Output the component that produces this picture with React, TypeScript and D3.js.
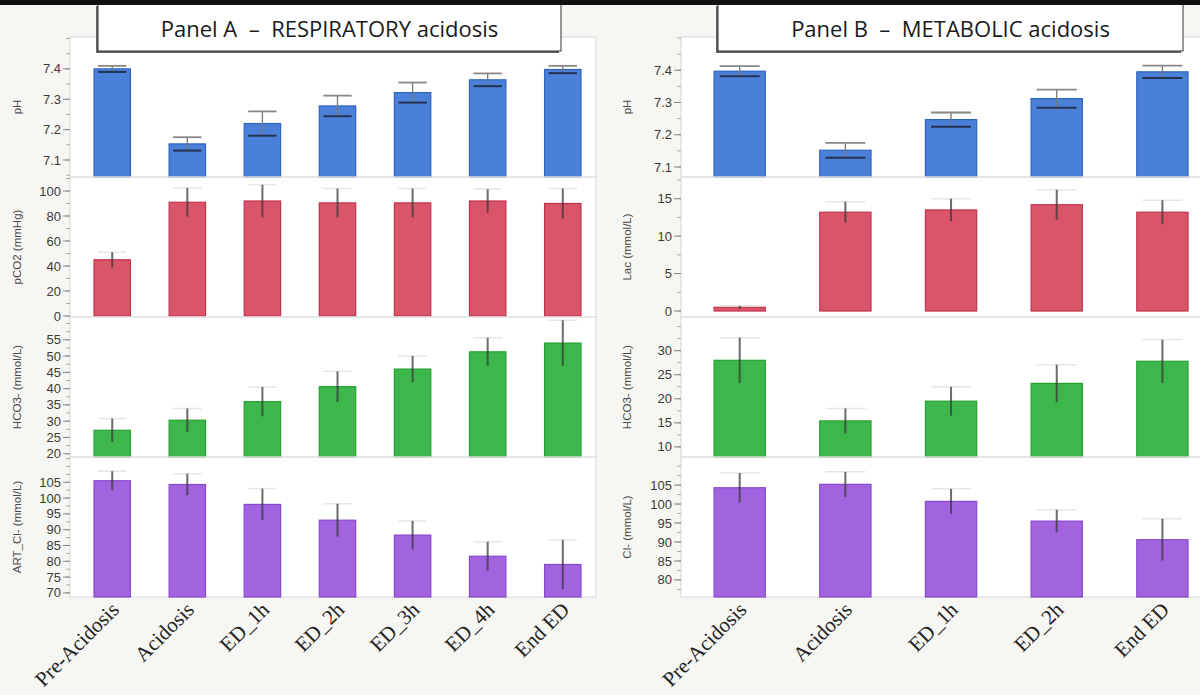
import * as d3 from 'd3';

// categories
const groupsA = ['Pre-Acidosis', 'Acidosis', 'ED_1h', 'ED_2h', 'ED_3h', 'ED_4h', 'End ED'];
const groupsB = ['Pre-Acidosis', 'Acidosis', 'ED_1h', 'ED_2h', 'End ED'];

// Panel A - respiratory acidosis (mean, sd)
const phA = [7.4, 7.153, 7.22, 7.278, 7.322, 7.364, 7.398];
const phErrA = [0.01, 0.022, 0.04, 0.034, 0.033, 0.021, 0.012];
const pco2A = [45, 91, 92, 90.5, 90.5, 92, 90];
const pco2ErrA = [6, 11.5, 13, 11.5, 11.5, 9.5, 12];
const hco3A = [27.2, 30.3, 36, 40.6, 46, 51.3, 54];
const hco3ErrA = [3.6, 3.6, 4.5, 4.7, 4, 4.3, 7];
const clA = [105.5, 104.3, 98, 93, 88.3, 81.6, 79];
const clErrA = [3, 3.4, 5, 5.2, 4.5, 4.6, 7.8];

// Panel B - metabolic acidosis
const phB = [7.397, 7.152, 7.247, 7.312, 7.395];
const phErrB = [0.016, 0.023, 0.022, 0.028, 0.019];
const lacB = [0.5, 13.2, 13.5, 14.2, 13.2];
const lacErrB = [0.2, 1.4, 1.5, 2, 1.6];
const hco3B = [28, 15.4, 19.5, 23.2, 27.8];
const hco3ErrB = [4.7, 2.6, 3, 3.9, 4.5];
const clB = [104.3, 105.2, 100.7, 95.5, 90.6];
const clErrB = [3.9, 3.3, 3.3, 3, 5.5];

// tick labels
const phTicks = [7.1, 7.2, 7.3, 7.4];
const pco2Ticks = [0, 20, 40, 60, 80, 100];
const hco3TicksA = [20, 25, 30, 35, 40, 45, 50, 55];
const clTicksA = [70, 75, 80, 85, 90, 95, 100, 105];
const lacTicks = [0, 5, 10, 15];
const hco3TicksB = [10, 15, 20, 25, 30];
const clTicksB = [80, 85, 90, 95, 100, 105];

const FILLS = ['#4b80d8', '#d9556a', '#3db64c', '#a163de'];
const STROKES = ['#2f63c0', '#c2334e', '#25a030', '#8a47d0'];

const ROW_TOP = 37;
const ROW_H = 140;

interface Row {
  label: string;
  values: number[];
  errs: number[];
  domain: [number, number];
  ticks: number[];
  fmt: string;
  capped?: boolean;
}

const rowsA: Row[] = [
  { label: 'pH', values: phA, errs: phErrA, domain: [7.044, 7.505], ticks: phTicks, fmt: '.1f', capped: true },
  { label: 'pCO2 (mmHg)', values: pco2A, errs: pco2ErrA, domain: [-0.8, 111.2], ticks: pco2Ticks, fmt: 'd' },
  { label: 'HCO3- (mmol/L)', values: hco3A, errs: hco3ErrA, domain: [19, 62], ticks: hco3TicksA, fmt: 'd' },
  { label: 'ART_Cl- (mmol/L)', values: clA, errs: clErrA, domain: [68.7, 113], ticks: clTicksA, fmt: 'd' },
];

const rowsB: Row[] = [
  { label: 'pH', values: phB, errs: phErrB, domain: [7.069, 7.503], ticks: phTicks, fmt: '.1f', capped: true },
  { label: 'Lac (mmol/L)', values: lacB, errs: lacErrB, domain: [-0.8, 17.9], ticks: lacTicks, fmt: 'd' },
  { label: 'HCO3- (mmol/L)', values: hco3B, errs: hco3ErrB, domain: [7.9, 37], ticks: hco3TicksB, fmt: 'd' },
  { label: 'Cl- (mmol/L)', values: clB, errs: clErrB, domain: [75.5, 112.4], ticks: clTicksB, fmt: 'd' },
];

interface PanelProps {
  title: string;
  groups: string[];
  rows: Row[];
  frame: [number, number];
  band: [number, number];
  titleBox: [number, number];
  yLabelX: number;
}

function Panel({ title, groups, rows, frame, band, titleBox, yLabelX }: PanelProps) {
  const x = d3.scaleBand().domain(groups).range(band).paddingInner(0.515).paddingOuter(0.26);
  const bw = x.bandwidth();
  const [fx0, fx1] = frame;
  const bottom = ROW_TOP + ROW_H * rows.length;

  return (
    <g>
      <rect x={fx0} y={ROW_TOP} width={fx1 - fx0} height={bottom - ROW_TOP} fill="#fff" stroke="#d6d6d6" />
      {rows.map((row, ri) => {
        const top = ROW_TOP + ri * ROW_H;
        const y = d3.scaleLinear().domain(row.domain).range([top + ROW_H, top]);
        const base = row.domain[0] < 0 ? 0 : row.domain[0];
        const step = row.ticks[1] - row.ticks[0];
        const minor = d3.range(row.ticks[0] - step / 2, row.domain[1], step / 2)
          .filter((t) => t > row.domain[0] && t < row.domain[1]);
        const fmt = d3.format(row.fmt);
        return (
          <g key={row.label + ri}>
            {ri > 0 && <line x1={fx0} x2={fx1} y1={top} y2={top} stroke="#dedede" strokeWidth={1.5} />}
            {minor.map((t) => (
              <line key={'m' + t} x1={fx0 - 4} x2={fx0} y1={y(t)} y2={y(t)} stroke="#aaa" />
            ))}
            {row.ticks.map((t) => (
              <g key={t}>
                <line x1={fx0 - 7} x2={fx0} y1={y(t)} y2={y(t)} stroke="#888" />
                <text x={fx0 - 9} y={y(t)} dy="0.35em" textAnchor="end" fontSize={13} fill="#3a3a3a">
                  {fmt(t)}
                </text>
              </g>
            ))}
            <text
              transform={`translate(${yLabelX},${top + ROW_H / 2}) rotate(-90)`}
              textAnchor="middle"
              fontSize={11.5}
              fill="#4a4a4a"
            >
              {row.label}
            </text>
            {row.values.map((v, i) => {
              const cx = (x(groups[i]) ?? 0) + bw / 2;
              const yTop = y(v);
              const yBase = y(base);
              const hi = y(v + row.errs[i]);
              const lo = y(v - row.errs[i]);
              const capW = bw * 0.78;
              return (
                <g key={groups[i]}>
                  <rect
                    x={cx - bw / 2}
                    y={yTop}
                    width={bw}
                    height={Math.max(yBase - yTop, 1)}
                    fill={FILLS[ri]}
                    stroke={STROKES[ri]}
                    strokeWidth={1.2}
                  />
                  {row.capped ? (
                    <g>
                      <line x1={cx} x2={cx} y1={hi} y2={lo} stroke="#777" strokeWidth={1.3} />
                      <line x1={cx - capW / 2} x2={cx + capW / 2} y1={hi} y2={hi} stroke="#888" strokeWidth={1.8} />
                      <line x1={cx - capW / 2} x2={cx + capW / 2} y1={lo} y2={lo} stroke="#22324f" strokeWidth={2} />
                    </g>
                  ) : (
                    <g>
                      <line x1={cx - capW / 2} x2={cx + capW / 2} y1={hi} y2={hi} stroke="#e6e6e6" strokeWidth={1.5} />
                      <line x1={cx} x2={cx} y1={hi} y2={lo} stroke="#3a3a3a" strokeWidth={2} strokeOpacity={0.75} />
                    </g>
                  )}
                </g>
              );
            })}
          </g>
        );
      })}
      {groups.map((gname) => {
        const cx = (x(gname) ?? 0) + bw / 2;
        return (
          <text
            key={gname}
            transform={`translate(${cx + 8},${bottom + 14}) rotate(-45)`}
            textAnchor="end"
            fontFamily="'Liberation Serif', 'Times New Roman', serif"
            fontSize={21}
            fill="#222"
          >
            {gname}
          </text>
        );
      })}
      <rect x={titleBox[0] - 2} y={6} width={titleBox[1] - titleBox[0]} height={47} fill="#666" />
      <rect x={titleBox[0]} y={4} width={titleBox[1] - titleBox[0]} height={47} fill="#fff" stroke="#333" strokeWidth={1} />
      <text
        x={(titleBox[0] + titleBox[1]) / 2}
        y={37}
        textAnchor="middle"
        fontFamily="'Open Sans', 'Noto Sans', sans-serif"
        fontSize={22}
        fill="#1a1a1a"
      >
        {title}
      </text>
    </g>
  );
}

export default function App() {
  const W = 1200;
  const H = 695;
  return (
    <svg
      width={W}
      height={H}
      style={{ position: 'absolute', left: 0, top: 0, display: 'block' }}
      fontFamily="'Liberation Sans', Arial, sans-serif"
    >
      <rect width={W} height={H} fill="#f6f6f2" />
      <Panel
        title={'Panel A \u00a0\u2013\u00a0 RESPIRATORY acidosis'}
        groups={groupsA}
        rows={rowsA}
        frame={[70, 596]}
        band={[74.5, 600.5]}
        titleBox={[98, 561]}
        yLabelX={21}
      />
      <Panel
        title={'Panel B \u00a0\u2013\u00a0 METABOLIC acidosis'}
        groups={groupsB}
        rows={rowsB}
        frame={[681, 1206]}
        band={[686.6, 1215.5]}
        titleBox={[718, 1183]}
        yLabelX={631}
      />
      <rect width={W} height={5} fill="#111" />
    </svg>
  );
}
